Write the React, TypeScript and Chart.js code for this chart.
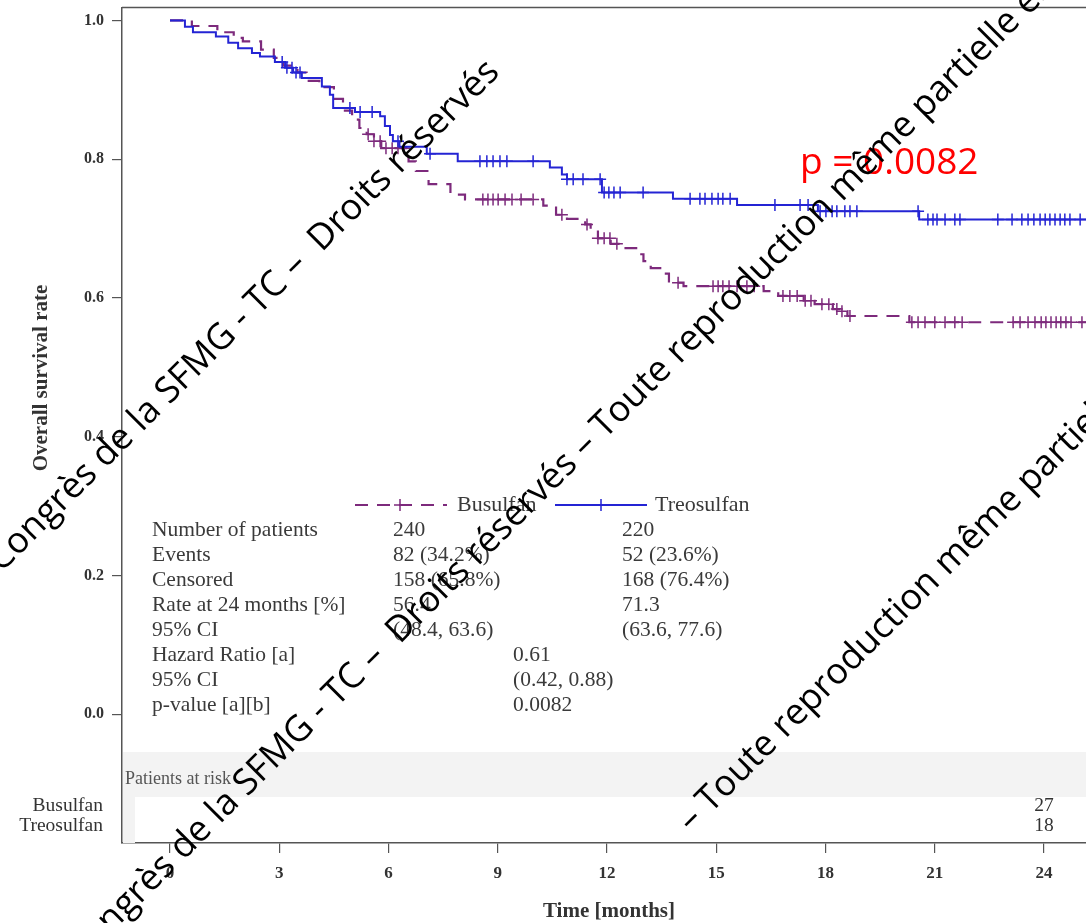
import React, { useEffect, useRef } from "react";
import { Chart, registerables } from "chart.js";

Chart.register(...registerables);

// ---------------- data ----------------
const xTicks = [0, 3, 6, 9, 12, 15, 18, 21, 24];
const yTicks = [0, 0.2, 0.4, 0.6, 0.8, 1.0];
const followUpEnd = 25.6;

// Treosulfan (solid blue) : event times (months) and survival after each step
const treoTimes = [0, 0.41, 0.63, 1.26, 1.6, 1.87, 2.25, 2.47, 2.88, 3.16, 3.38, 3.62, 4.17, 4.39, 4.48, 5.08, 5.77, 5.9, 6.04, 6.12, 6.3, 7.05, 7.9, 10.43, 10.76, 10.9, 11.86, 13.81, 15.57, 17.79, 20.57];
const treoSurv = [1.0, 0.991, 0.983, 0.977, 0.968, 0.96, 0.953, 0.948, 0.94, 0.932, 0.925, 0.917, 0.905, 0.893, 0.874, 0.868, 0.862, 0.848, 0.835, 0.826, 0.818, 0.808, 0.797, 0.788, 0.778, 0.771, 0.752, 0.743, 0.734, 0.725, 0.713];
const treoCensor = [3.08, 3.21, 3.35, 3.46, 3.57, 4.94, 5.22, 5.55, 6.26, 7.14, 8.51, 8.7, 8.87, 9.06, 9.25, 9.97, 10.9, 11.07, 11.34, 11.81, 11.92, 12.05, 12.19, 12.36, 12.99, 14.28, 14.55, 14.69, 14.88, 15.05, 15.18, 15.38, 16.61, 17.3, 17.52, 17.85, 18.01, 18.18, 18.31, 18.53, 18.67, 18.86, 20.54, 20.81, 20.95, 21.06, 21.28, 21.55, 21.69, 22.73, 23.12, 23.39, 23.56, 23.72, 23.89, 24.03, 24.16, 24.3, 24.44, 24.57, 24.71, 24.99];

// Busulfan (dashed purple)
const busuTimes = [0, 0.6, 1.3, 1.75, 2.0, 2.5, 2.85, 3.1, 3.5, 3.75, 4.1, 4.5, 4.75, 5.0, 5.2, 5.4, 5.6, 5.8, 6.55, 6.75, 7.1, 7.7, 8.1, 10.25, 10.6, 10.9, 11.4, 11.55, 11.75, 12.1, 12.4, 12.8, 13.0, 13.2, 13.5, 13.7, 14.1, 16.3, 16.7, 17.4, 17.7, 18.2, 18.4, 18.6, 20.3];
const busuSurv = [1.0, 0.992, 0.983, 0.975, 0.97, 0.958, 0.946, 0.935, 0.925, 0.913, 0.904, 0.887, 0.87, 0.857, 0.845, 0.836, 0.826, 0.816, 0.797, 0.783, 0.764, 0.749, 0.742, 0.733, 0.72, 0.714, 0.706, 0.698, 0.686, 0.678, 0.672, 0.663, 0.653, 0.643, 0.635, 0.622, 0.617, 0.61, 0.603, 0.596, 0.591, 0.584, 0.581, 0.574, 0.565];
const busuCensor = [5.44, 5.6, 5.77, 5.93, 6.1, 6.26, 6.43, 8.59, 8.73, 8.87, 9.01, 9.2, 9.39, 9.64, 9.97, 10.76, 11.45, 11.75, 11.92, 12.08, 12.27, 13.95, 14.91, 15.05, 15.18, 15.35, 15.57, 15.84, 16.04, 16.83, 17.02, 17.22, 17.44, 17.6, 17.9, 18.09, 18.31, 18.45, 18.67, 20.37, 20.54, 20.73, 21.0, 21.28, 21.55, 21.75, 23.15, 23.34, 23.56, 23.75, 23.92, 24.05, 24.19, 24.33, 24.46, 24.6, 24.74, 25.04];

// summary table
const tableLabels = ["Number of patients", "Events", "Censored", "Rate at 24 months [%]", "95% CI", "Hazard Ratio [a]", "95% CI", "p-value [a][b]"];
const tableBusulfan = ["240", "82 (34.2%)", "158 (65.8%)", "56.4", "(48.4, 63.6)", "", "", ""];
const tableComparison = ["", "", "", "", "", "0.61", "(0.42, 0.88)", "0.0082"];
const tableTreosulfan = ["220", "52 (23.6%)", "168 (76.4%)", "71.3", "(63.6, 77.6)", "", "", ""];

// patients at risk
const riskTimes = [24];
const riskBusulfan = [27];
const riskTreosulfan = [18];

const seriesNames = ["Busulfan", "Treosulfan"];
const pValueText = "p = 0.0082";
const watermarkA = "Congrès de la SFMG - TC –  Droits réservés";
const watermarkB = "Congrès de la SFMG - TC –  Droits réservés – Toute reproduction même partielle est interdite";
const watermarkC = "– Toute reproduction même partielle est interdite";

// ---------------- styles ----------------
const BLUE = "#2424d4";
const PURPLE = "#7d2a7c";
const SERIF = '"Liberation Serif", "Times New Roman", serif';
const SANS = '"Open Sans", "Liberation Sans", sans-serif';

function stepAt(times: number[], surv: number[], t: number) {
  let v = surv[0];
  for (let i = 0; i < times.length; i++) if (times[i] <= t) v = surv[i];
  return v;
}
function curve(times: number[], surv: number[]) {
  const pts = times.map((t, i) => ({ x: t, y: surv[i] }));
  pts.push({ x: followUpEnd, y: surv[surv.length - 1] });
  return pts;
}
function censorPts(times: number[], surv: number[], c: number[]) {
  return c.map((t) => ({ x: t, y: stepAt(times, surv, t) }));
}
function cross(ctx: CanvasRenderingContext2D, x: number, y: number, r: number) {
  ctx.beginPath();
  ctx.moveTo(x - r, y);
  ctx.lineTo(x + r, y);
  ctx.moveTo(x, y - r);
  ctx.lineTo(x, y + r);
  ctx.stroke();
}

const decor = {
  id: "decor",
  beforeDatasetsDraw(chart: any) {
    const { ctx, chartArea, scales } = chart;
    const xs = scales.x;
    ctx.save();
    // risk table band
    ctx.fillStyle = "#f3f3f3";
    ctx.fillRect(chartArea.left + 1, 752, chartArea.right - chartArea.left, 45);
    ctx.fillRect(chartArea.left + 1, 797, 12, chartArea.bottom - 797);
    ctx.textBaseline = "middle";
    ctx.font = `18px ${SERIF}`;
    ctx.fillStyle = "#555";
    ctx.textAlign = "left";
    ctx.fillText("Patients at risk", 125, 779);
    ctx.font = `19.5px ${SERIF}`;
    ctx.fillStyle = "#333";
    ctx.textAlign = "right";
    ctx.fillText(seriesNames[0], 103, 806);
    ctx.fillText(seriesNames[1], 103, 826);
    ctx.textAlign = "center";
    riskTimes.forEach((t, i) => {
      const px = xs.getPixelForValue(t);
      ctx.fillText(String(riskBusulfan[i]), px, 806);
      ctx.fillText(String(riskTreosulfan[i]), px, 826);
    });

    // legend
    ctx.lineWidth = 2.2;
    ctx.strokeStyle = PURPLE;
    ctx.setLineDash([13, 9]);
    ctx.beginPath();
    ctx.moveTo(355, 505);
    ctx.lineTo(447, 505);
    ctx.stroke();
    ctx.setLineDash([]);
    ctx.lineWidth = 1.5;
    cross(ctx, 400, 505, 6);
    ctx.lineWidth = 2.2;
    ctx.strokeStyle = BLUE;
    ctx.beginPath();
    ctx.moveTo(555, 505);
    ctx.lineTo(647, 505);
    ctx.stroke();
    ctx.lineWidth = 1.5;
    cross(ctx, 601, 505, 6);
    ctx.font = `22px ${SERIF}`;
    ctx.fillStyle = "#3a3a3a";
    ctx.textAlign = "left";
    ctx.fillText(seriesNames[0], 457, 505);
    ctx.fillText(seriesNames[1], 655, 505);

    // summary table
    ctx.font = `21.5px ${SERIF}`;
    tableLabels.forEach((lab, i) => {
      const y = 530 + i * 25.1;
      ctx.fillText(lab, 152, y);
      if (tableBusulfan[i]) ctx.fillText(tableBusulfan[i], 393, y);
      if (tableComparison[i]) ctx.fillText(tableComparison[i], 513, y);
      if (tableTreosulfan[i]) ctx.fillText(tableTreosulfan[i], 622, y);
    });
    ctx.restore();
  },
  afterDraw(chart: any) {
    const { ctx, chartArea } = chart;
    ctx.save();
    // frame
    ctx.strokeStyle = "#555";
    ctx.lineWidth = 1.5;
    ctx.beginPath();
    ctx.moveTo(chartArea.left, chartArea.top);
    ctx.lineTo(chartArea.right, chartArea.top);
    ctx.lineTo(chartArea.right, chartArea.bottom);
    ctx.stroke();

    // axis titles
    ctx.fillStyle = "#333";
    ctx.font = `bold 21px ${SERIF}`;
    ctx.textAlign = "center";
    ctx.textBaseline = "middle";
    ctx.fillText("Time [months]", 609, 912);
    ctx.save();
    ctx.translate(42, 378);
    ctx.rotate(-Math.PI / 2);
    ctx.fillText("Overall survival rate", 0, 0);
    ctx.restore();

    // p value
    ctx.fillStyle = "#ff0000";
    ctx.font = `37px ${SANS}`;
    ctx.textAlign = "left";
    ctx.textBaseline = "alphabetic";
    ctx.fillText(pValueText, 800, 174);

    // watermark
    ctx.fillStyle = "#000";
    ctx.font = `36px ${SANS}`;
    ctx.textBaseline = "middle";
    const lines: [string, number, number][] = [
      [watermarkA, -6, 566],
      [watermarkB, 72, 958],
      [watermarkC, 684, 826],
    ];
    lines.forEach(([txt, x, y]) => {
      ctx.save();
      ctx.translate(x, y);
      ctx.rotate(-Math.PI / 4);
      ctx.fillText(txt, 0, 0);
      ctx.restore();
    });
    ctx.restore();
  },
};

export default function App() {
  const ref = useRef<HTMLCanvasElement>(null);
  useEffect(() => {
    if (!ref.current) return;
    const tickFontX = { family: SERIF, weight: "bold" as const, size: 17 };
    const tickFontY = { family: SERIF, weight: "bold" as const, size: 16 };
    const chart = new Chart(ref.current, {
      type: "line",
      data: {
        datasets: [
          {
            label: "Treosulfan",
            data: curve(treoTimes, treoSurv),
            borderColor: BLUE,
            borderWidth: 2,
            stepped: true,
            pointRadius: 0,
            fill: false,
          },
          {
            label: "Treosulfan censored",
            data: censorPts(treoTimes, treoSurv, treoCensor),
            showLine: false,
            pointStyle: "cross",
            pointRadius: 6,
            borderColor: BLUE,
            backgroundColor: BLUE,
            pointBorderWidth: 1.5,
          },
          {
            label: "Busulfan",
            data: curve(busuTimes, busuSurv),
            borderColor: PURPLE,
            borderWidth: 2.2,
            borderDash: [13, 9],
            stepped: true,
            pointRadius: 0,
            fill: false,
          },
          {
            label: "Busulfan censored",
            data: censorPts(busuTimes, busuSurv, busuCensor),
            showLine: false,
            pointStyle: "cross",
            pointRadius: 6,
            borderColor: PURPLE,
            backgroundColor: PURPLE,
            pointBorderWidth: 1.5,
          },
        ],
      },
      options: {
        animation: false,
        responsive: false,
        maintainAspectRatio: false,
        devicePixelRatio: 1,
        layout: { padding: { left: 0, top: 6, right: 30, bottom: 0 } },
        plugins: { legend: { display: false }, tooltip: { enabled: false } },
        scales: {
          x: {
            type: "linear",
            min: -1.318,
            max: 25.81,
            afterBuildTicks: (s: any) => {
              s.ticks = xTicks.map((v) => ({ value: v }));
            },
            afterFit: (s: any) => {
              s.height = 80;
              s.paddingLeft = 0;
              s.paddingRight = 0;
            },
            ticks: {
              font: tickFontX,
              color: "#333",
              padding: 10,
              autoSkip: false,
              maxRotation: 0,
              callback: (v: any) => String(v),
            },
            grid: { drawOnChartArea: false, drawTicks: true, tickLength: 10, color: "#555", lineWidth: 1.2 },
            border: { display: true, color: "#555", width: 1.5 },
          },
          y: {
            type: "linear",
            min: -0.1856,
            max: 1.0187,
            afterBuildTicks: (s: any) => {
              s.ticks = yTicks.map((v) => ({ value: v }));
            },
            afterFit: (s: any) => {
              s.width = 122;
              s.paddingTop = 0;
              s.paddingBottom = 0;
            },
            ticks: {
              font: tickFontY,
              color: "#333",
              padding: 8,
              callback: (v: any) => Number(v).toFixed(1),
            },
            grid: { drawOnChartArea: false, drawTicks: true, tickLength: 10, color: "#555", lineWidth: 1.2 },
            border: { display: true, color: "#555", width: 1.5 },
          },
        },
      },
      plugins: [decor],
    });
    return () => chart.destroy();
  }, []);

  return (
    <div
      style={{
        position: "fixed",
        left: 0,
        top: 0,
        width: 1086,
        height: 923,
        overflow: "hidden",
        background: "#fff",
      }}
    >
      <canvas ref={ref} width={1140} height={923} style={{ width: 1140, height: 923, display: "block" }} />
    </div>
  );
}
